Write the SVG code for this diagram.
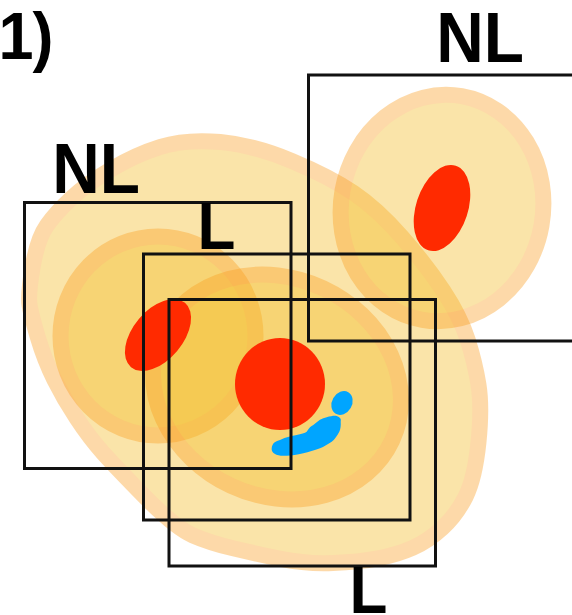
<svg xmlns="http://www.w3.org/2000/svg" width="572" height="615" viewBox="0 0 572 615">
  <style>
    .zone { fill: #F4BB1F; stroke: #FA9E1F; stroke-width: 32; paint-order: stroke; opacity: 0.38; }
    .core { fill: #FF2A00; }
    .water { fill: #00A5FF; }
    .box { fill: none; stroke: #111; stroke-width: 3; }
    .lbl { font-family: "Liberation Sans", Arial, Helvetica, sans-serif; font-weight: bold; fill: #000; }
  </style>

  <rect x="0" y="0" width="572" height="615" fill="#fff"/>

  <!-- density zones: each path is the inner edge, the wide stroke forms the pale outer rim -->
  <g id="zones">
    <path id="zone-large" class="zone" d="M 163,154.5 Q 187,147 219.5,150 Q 252,153 289,168.5 Q 326,184 349,199.5 Q 372,215 396,242.5 Q 420,270 436.5,295 Q 453,320 460,342 Q 467,364 470.5,385.5 Q 474,407 470.5,441.5 Q 467,476 458.5,493 Q 450,510 437,522 Q 424,534 409.5,540.5 Q 395,547 376.5,550.5 Q 358,554 332.5,555 Q 307,556 282.5,551 Q 258,546 235,540.5 Q 212,535 196,528 Q 180,521 151,491.5 Q 122,462 109,447.5 Q 96,433 83.5,414 Q 71,395 61.5,376 Q 52,357 45.5,335 Q 39,313 37.5,304 Q 36,295 40.5,268.5 Q 45,242 53.5,230 Q 62,218 77,204 Q 92,190 115.5,176 Q 139,162 163,154.5 Z"/>
    <ellipse id="zone-right" class="zone" cx="442" cy="208" rx="93" ry="105.5" transform="rotate(10 442 208)"/>
    <ellipse id="zone-left" class="zone" cx="158" cy="336" rx="89.5" ry="91.5"/>
    <ellipse id="zone-center" class="zone" cx="277" cy="387" rx="119" ry="101" transform="rotate(25 277 387)"/>
  </g>

  <!-- hot spots -->
  <g id="spots">
    <ellipse class="core" cx="442" cy="208" rx="26" ry="44.5" transform="rotate(18 442 208)"/>
    <ellipse class="core" cx="158" cy="335" rx="42" ry="25" transform="rotate(-50 158 335)"/>
    <ellipse class="core" cx="280" cy="384" rx="45" ry="46"/>
    <ellipse class="water" cx="342" cy="403" rx="10" ry="12.5" transform="rotate(30 342 403)"/>
    <path class="water" d="M 271.7,448.3 C 272,443 276,441 280,440 C 286,437 292,436 296.7,435 C 301,434 305,433 306.7,431.7 C 309,428 311,426 313.3,425 C 318,421 322,418 326.7,417.3 C 331,416 334.5,415.5 336.7,416 C 340,417 341.5,419 340.7,421.7 C 341,426 340.5,429 339.3,431.7 C 337,436 335,439 331.7,441.7 C 328,444 324,446.5 320,448.3 C 314,450.5 309,452 303.3,453.3 C 297,455 292,455.5 286.7,455.7 C 281,456 277,455.5 275,454 C 272,452.5 271.5,450.5 271.7,448.3 Z"/>
  </g>

  <!-- sampling windows -->
  <g id="box-nl-left"><rect class="box" x="24.5" y="202.5" width="266.5" height="266"/></g>
  <g id="box-l-upper"><rect class="box" x="143.5" y="254" width="266.5" height="266"/></g>
  <g id="box-l-lower"><rect class="box" x="169" y="299.5" width="266.5" height="266.5"/></g>
  <g id="box-nl-right"><rect class="box" x="308.5" y="75" width="270" height="266"/></g>

  <!-- labels -->
  <g id="labels">
    <text class="lbl" font-size="67" transform="translate(-1.5 59) scale(0.94 1)">1<tspan dx="-1">)</tspan></text>
    <text class="lbl" font-size="70" transform="translate(436.2 62) scale(0.94 1)">NL</text>
    <text class="lbl" font-size="70" transform="translate(52.2 193) scale(0.94 1)">NL</text>
    <text class="lbl" font-size="66" transform="translate(197.5 249) scale(0.94 1)">L</text>
    <text class="lbl" font-size="66" transform="translate(349.5 613) scale(0.94 1)">L</text>
  </g>
</svg>
